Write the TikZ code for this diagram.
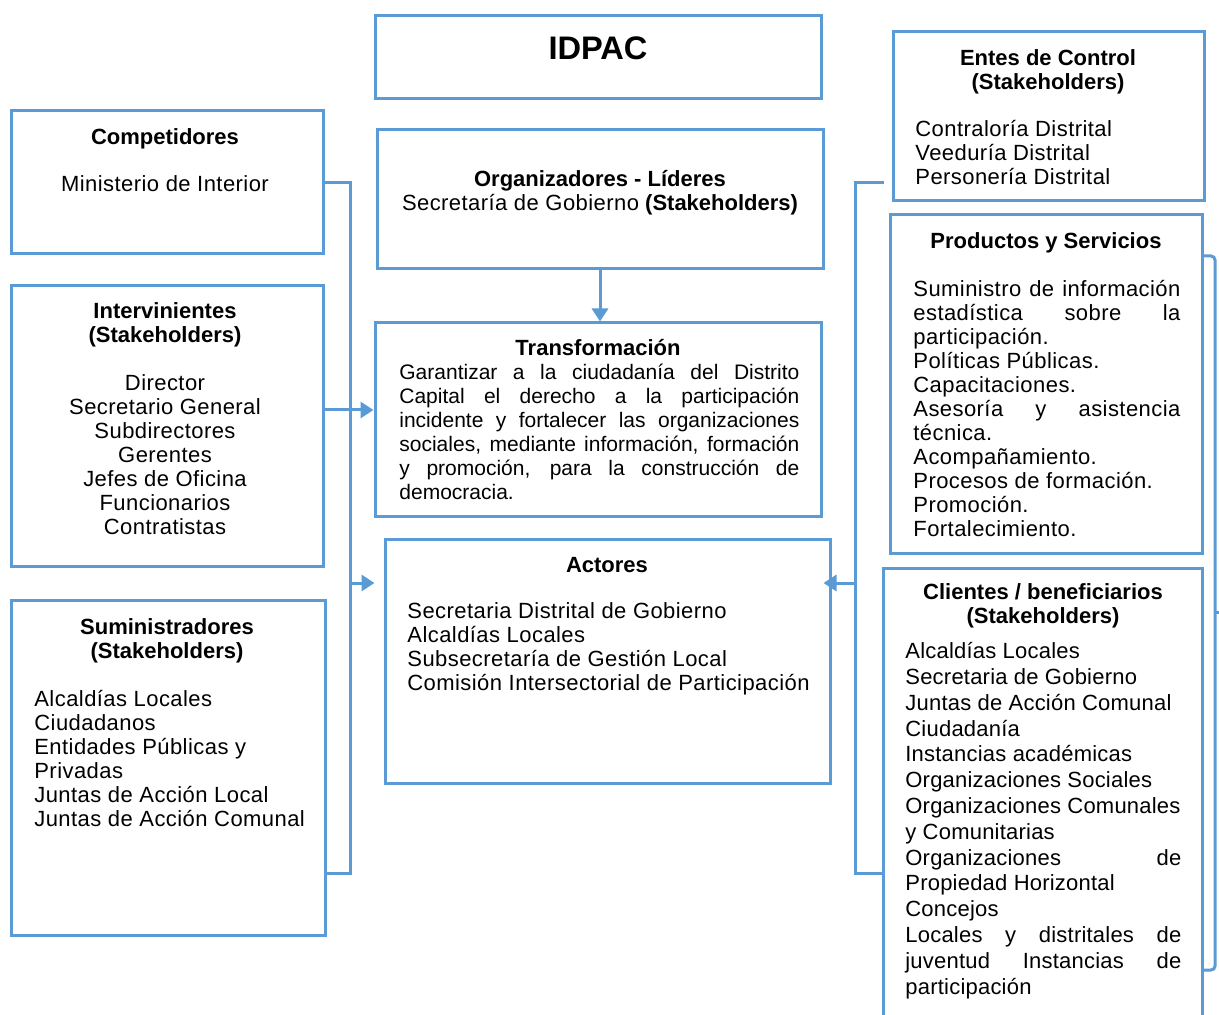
\documentclass[tikz,border=0pt]{standalone}
\usepackage{fontspec}
\setmainfont{Liberation Sans}
\newfontfamily\listfont{Liberation Sans}[LetterSpace=2]
\newfontfamily\clifont{Liberation Sans}[LetterSpace=1]
\usetikzlibrary{arrows.meta}

\definecolor{idblue}{RGB}{91,155,213}
\newcommand{\bodyfont}{\fontsize{10.5}{12}\selectfont}
\newcommand{\listsize}{\fontsize{11}{12}\selectfont}
\tolerance=10000
\hbadness=10000
\hfuzz=4pt
\hyphenpenalty=10000
\exhyphenpenalty=10000

\tikzset{
  box/.style={draw=idblue, line width=1.5pt, inner sep=0pt},
  link/.style={draw=idblue, line width=1.5pt},
  head/.style={font=\listsize\bfseries, inner sep=0pt, align=center},
  txt/.style={font=\listfont\listsize, inner sep=0pt},
}

\begin{document}
\begin{tikzpicture}[x=0.5pt, y=-0.5pt, >={Triangle[length=6.5pt,width=8pt]}]
\useasboundingbox (0,0) rectangle (1219,1015);

% boxes
\node[box, minimum width=223pt, minimum height=41.5pt] (idpac) at (598,57.5) {};
\node[box, minimum width=223pt, minimum height=69.5pt] (org) at (600,199.5) {};
\node[box, minimum width=223pt, minimum height=96.5pt] (trans) at (598,419.5) {};
\node[box, minimum width=222.5pt, minimum height=122pt] (act) at (607.5,661) {};

\node[box, minimum width=156pt, minimum height=71.5pt] (comp) at (167,182.5) {};
\node[box, minimum width=156pt, minimum height=140pt] (inter) at (167,426) {};
\node[box, minimum width=157pt, minimum height=167.5pt] (sumi) at (168,767.5) {};

\node[box, minimum width=155.5pt, minimum height=84.5pt] (entes) at (1048.5,116.5) {};
\node[box, minimum width=156pt, minimum height=169pt] (prod) at (1046,384) {};
\node[box, minimum width=159.5pt, minimum height=231pt] (cli) at (1042.5,799) {};

% texts
\node[head, font=\fontsize{16.3}{18}\selectfont\bfseries] (idpact) at (598,48) {IDPAC};

\node[head] (orgt) at (600,193) {Organizadores - Líderes\\{\listfont\mdseries Secretaría de Gobierno} (Stakeholders)};

\node[head] (transt) at (598,348) {Transformación};
\node[inner sep=0pt, font=\bodyfont, anchor=north west, text width=200pt, align=justify] (transb) at (399,364)
{Garantizar a la ciudadanía del Distrito\linebreak Capital el derecho a la participación\linebreak incidente y fortalecer las organizaciones\linebreak sociales, mediante información, formación\linebreak y promoción, para la construcción de\linebreak democracia.};

\node[head] (actt) at (607,565) {Actores};
\node[txt, anchor=north west, align=left] (actb) at (407,602)
{Secretaria Distrital de Gobierno\\Alcaldías Locales\\Subsecretaría de Gestión Local\\Comisión Intersectorial de Participación};

\node[head] (compt) at (165,138.5) {Competidores};
\node[txt] (compb) at (165,184) {Ministerio de Interior};

\node[head] (intert) at (165,324.5) {Intervinientes\\(Stakeholders)};
\node[txt, anchor=north, align=center] (interb) at (165,374)
{Director\\Secretario General\\Subdirectores\\Gerentes\\Jefes de Oficina\\Funcionarios\\Contratistas};

\node[head] (sumit) at (167,640.5) {Suministradores\\(Stakeholders)};
\node[txt, anchor=north west, align=left] (sumib) at (34,690)
{Alcaldías Locales\\Ciudadanos\\Entidades Públicas y\\Privadas\\Juntas de Acción Local\\Juntas de Acción Comunal};

\node[head] (entest) at (1048,71.5) {Entes de Control\\(Stakeholders)};
\node[txt, anchor=north west, align=left] (entesb) at (915,120)
{Contraloría Distrital\\Veeduría Distrital\\Personería Distrital};

\node[head] (prodt) at (1046,242.5) {Productos y Servicios};
\node[txt, anchor=north west, text width=133.5pt, align=justify] (prodb) at (913,280)
{Suministro de información\linebreak estadística sobre la\linebreak participación.\\Políticas Públicas.\\Capacitaciones.\\Asesoría y asistencia\linebreak técnica.\\Acompañamiento.\\Procesos de formación.\\Promoción.\\Fortalecimiento.};

\node[head] (clit) at (1043,606) {Clientes / beneficiarios\\(Stakeholders)};
\node[txt, font=\clifont\fontsize{11}{12.9}\selectfont, anchor=north west, text width=138pt, align=justify] (clib) at (905,642)
{Alcaldías Locales\\Secretaria de Gobierno\\Juntas de Acción Comunal\\Ciudadanía\\Instancias académicas\\Organizaciones Sociales\\Organizaciones Comunales\\y Comunitarias\\Organizaciones de\linebreak Propiedad Horizontal\\Concejos\\Locales y distritales de\linebreak juventud Instancias de\linebreak participación};

% connectors
\coordinate (lt) at (350,183);
\coordinate (lb) at (350,873);
\coordinate (ti) at (350,410);
\coordinate (ta) at (350,583);
\coordinate (rt) at (855,183);
\coordinate (rb) at (855,873);
\coordinate (ra) at (855,583);
\coordinate (bt) at (1215,256);
\coordinate (bm) at (1215,612);
\coordinate (bb) at (1215,970);

\draw[link,->] (org.south) -- (org.south |- trans.north);

\draw[link] (comp.east) -| (lb) -- (lb -| sumi.east);
\draw[link,->] (inter.east |- ti) -- (ti -| trans.west);
\draw[link,->, shorten >=4.5pt] (ta) -- (ta -| act.west);

\draw[link, shorten <=4pt] (entes.west |- rt) -- (rt) -- (rb) -- (rb -| cli.west);
\draw[link,->, shorten >=-4pt] (ra) -- (ra -| act.east);

\draw[link, rounded corners=2pt] (prod.east |- bt) -- (bt) -- (bb) -- (bb -| prod.east);
\draw[link] (bm) -- ++(4,0);

\end{tikzpicture}
\end{document}
